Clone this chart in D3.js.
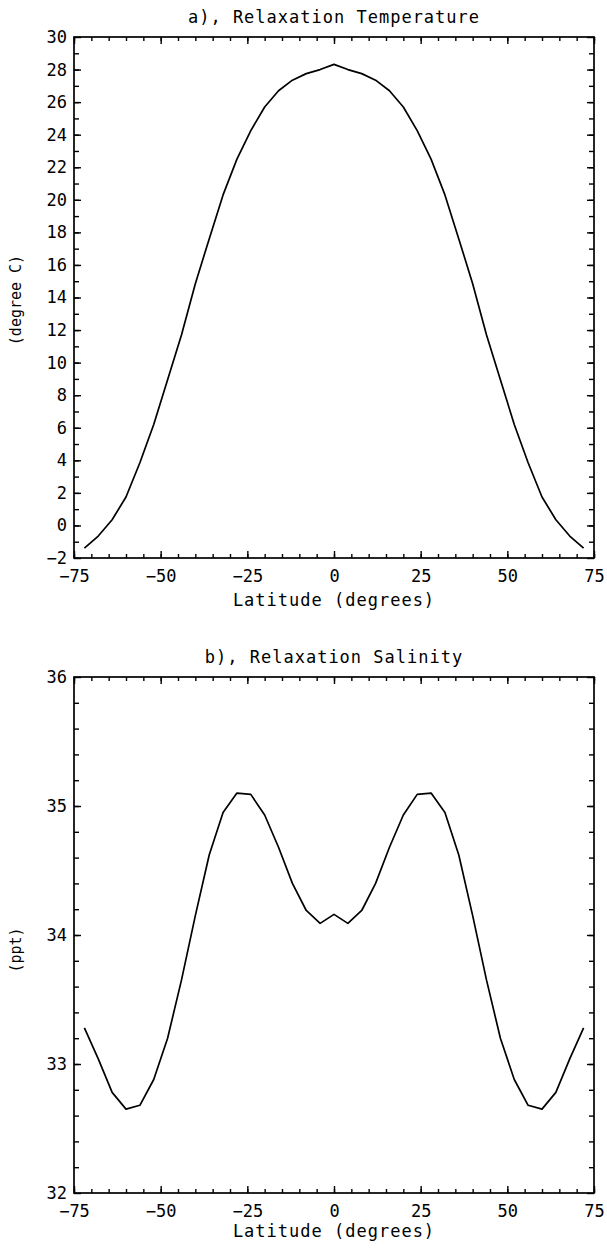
<!DOCTYPE html>
<html>
<head>
<meta charset="utf-8">
<script src="https://cdn.jsdelivr.net/npm/d3@7"></script>
<style>
  body { margin: 0; background: #fff; }
  svg text { font-family: "DejaVu Sans Mono", monospace; fill: #000; }
</style>
</head>
<body>
<svg id="chart" width="607" height="1248"></svg>
<script>
// latitude grid of the relaxation fields (degrees)
var latitudes = [-72, -68, -64, -60, -56, -52, -48, -44, -40, -36, -32, -28, -24, -20, -16, -12, -8, -4, 0,
                 4, 8, 12, 16, 20, 24, 28, 32, 36, 40, 44, 48, 52, 56, 60, 64, 68, 72];

// a) relaxation temperature (degree C)
var temperature = [-1.4, -0.65, 0.35, 1.75, 3.85, 6.2, 8.95, 11.7, 14.85, 17.6, 20.3, 22.5, 24.25, 25.7, 26.7, 27.35, 27.75, 28.0, 28.32,
                   28.0, 27.75, 27.35, 26.7, 25.7, 24.25, 22.5, 20.3, 17.6, 14.85, 11.7, 8.95, 6.2, 3.85, 1.75, 0.35, -0.65, -1.4];

// b) relaxation salinity (ppt)
var salinity = [33.28, 33.04, 32.78, 32.65, 32.68, 32.88, 33.2, 33.65, 34.15, 34.62, 34.95, 35.1, 35.09, 34.93, 34.68, 34.4, 34.19, 34.09, 34.16,
                34.09, 34.19, 34.4, 34.68, 34.93, 35.09, 35.1, 34.95, 34.62, 34.15, 33.65, 33.2, 32.88, 32.68, 32.65, 32.78, 33.04, 33.28];

var xTicks = [-75, -50, -25, 0, 25, 50, 75];
var tempTicks = d3.range(-2, 31, 2);
var saltTicks = [32, 33, 34, 35, 36];

var svg = d3.select('#chart');
svg.append('rect').attr('width', 607).attr('height', 1248).attr('fill', '#fff');

function panel(opt) {
    var x = d3.scaleLinear().domain([-75, 75]).range([opt.left, opt.right]);
    var y = d3.scaleLinear().domain(opt.yDomain).range([opt.bottom, opt.top]);
    var g = svg.append('g');

    function clean(sel) {
        sel.select('.domain').remove();
        sel.selectAll('line').attr('stroke', '#000').attr('stroke-width', 1.4);
        sel.selectAll('text').attr('font-family', '"DejaVu Sans Mono", monospace')
            .attr('font-size', 17).attr('fill', '#000');
    }

    var minorX = d3.range(-75, 76, 5);
    // bottom axis with labels
    g.append('g').attr('transform', 'translate(0,' + opt.bottom + ')')
        .call(d3.axisBottom(x).tickValues(xTicks).tickSize(-7).tickPadding(12).tickFormat(d3.format('d')))
        .call(clean);
    g.append('g').attr('transform', 'translate(0,' + opt.bottom + ')')
        .call(d3.axisBottom(x).tickValues(minorX).tickSize(-4).tickFormat(''))
        .call(clean);
    // top axis
    g.append('g').attr('transform', 'translate(0,' + opt.top + ')')
        .call(d3.axisTop(x).tickValues(xTicks).tickSize(-7).tickFormat(''))
        .call(clean);
    g.append('g').attr('transform', 'translate(0,' + opt.top + ')')
        .call(d3.axisTop(x).tickValues(minorX).tickSize(-4).tickFormat(''))
        .call(clean);
    // left axis with labels
    g.append('g').attr('transform', 'translate(' + opt.left + ',0)')
        .call(d3.axisLeft(y).tickValues(opt.yTicks).tickSize(-7).tickPadding(7).tickFormat(d3.format('d')))
        .call(clean);
    g.append('g').attr('transform', 'translate(' + opt.left + ',0)')
        .call(d3.axisLeft(y).tickValues(opt.yMinor).tickSize(-5).tickFormat(''))
        .call(clean);
    // right axis
    g.append('g').attr('transform', 'translate(' + opt.right + ',0)')
        .call(d3.axisRight(y).tickValues(opt.yTicks).tickSize(-7).tickFormat(''))
        .call(clean);
    g.append('g').attr('transform', 'translate(' + opt.right + ',0)')
        .call(d3.axisRight(y).tickValues(opt.yMinor).tickSize(-5).tickFormat(''))
        .call(clean);

    // frame
    g.append('rect')
        .attr('x', opt.left).attr('y', opt.top)
        .attr('width', opt.right - opt.left).attr('height', opt.bottom - opt.top)
        .attr('fill', 'none').attr('stroke', '#000').attr('stroke-width', 1.7);

    // curve
    var line = d3.line()
        .x(function (d, i) { return x(latitudes[i]); })
        .y(function (d) { return y(d); });
    g.append('path').datum(opt.values)
        .attr('d', line)
        .attr('fill', 'none').attr('stroke', '#000').attr('stroke-width', 1.7)
        .attr('stroke-linejoin', 'round');

    // titles
    g.append('text').attr('x', (opt.left + opt.right) / 2).attr('y', opt.titleY)
        .attr('text-anchor', 'middle').attr('font-size', 17).style('letter-spacing', '1px')
        .text(opt.title);
    g.append('text').attr('x', (opt.left + opt.right) / 2).attr('y', opt.xLabelY)
        .attr('text-anchor', 'middle').attr('font-size', 17).style('letter-spacing', '1px')
        .text('Latitude (degrees)');
    g.append('text')
        .attr('transform', 'translate(21,' + opt.yLabelY + ') rotate(-90)')
        .attr('text-anchor', 'middle').attr('font-size', 15)
        .text(opt.yLabel);
}

panel({
    left: 74, right: 594, top: 37, bottom: 558,
    yDomain: [-2, 30], yTicks: tempTicks, yMinor: d3.range(-1, 30, 1),
    values: temperature,
    title: 'a), Relaxation Temperature', titleY: 23, xLabelY: 606,
    yLabel: '(degree C)', yLabelY: 300
});

panel({
    left: 74, right: 594, top: 677, bottom: 1193,
    yDomain: [32, 36], yTicks: saltTicks, yMinor: d3.range(32.2, 36, 0.2),
    values: salinity,
    title: 'b), Relaxation Salinity', titleY: 663, xLabelY: 1237,
    yLabel: '(ppt)', yLabelY: 950
});
</script>
</body>
</html>
